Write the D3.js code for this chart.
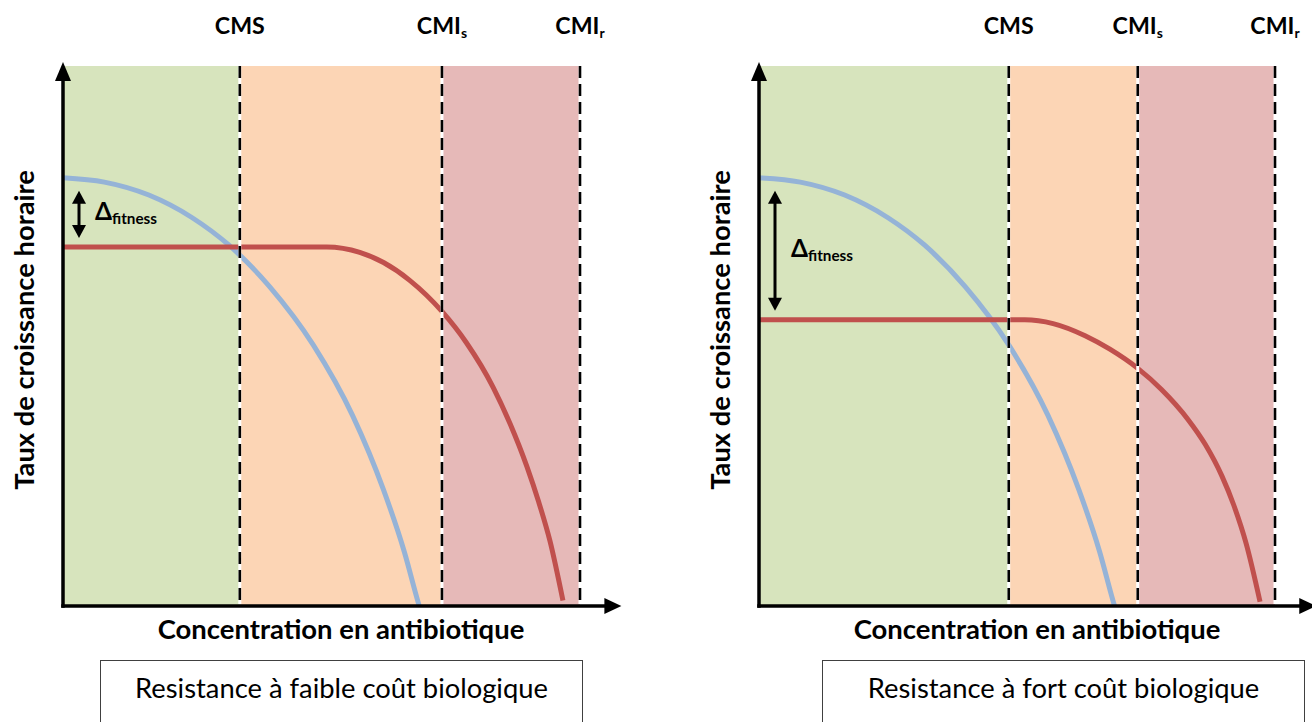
<!DOCTYPE html>
<html>
<head>
<meta charset="utf-8">
<script src="https://cdn.jsdelivr.net/npm/d3@7"></script>
<style>
  html, body { margin: 0; padding: 0; background: #fff; }
  svg { display: block; font-family: Lato, "Open Sans", sans-serif; }
</style>
</head>
<body>
<script>
// threshold labels (CMS, CMI_s, CMI_r)
const thresholdNames = ["CMS", "CMI", "CMI"];
const thresholdSubs = ["", "s", "r"];

// threshold concentrations, arbitrary units (CMI_r = 100)
const lowCostThresholds = [34.2, 73.3, 100];
const highCostThresholds = [48.4, 73.4, 100];

// susceptible strain: same curve in both panels [concentration, growth rate]
const sensitiveCurve = [
    [0, 79.3], [8, 78.5], [16.6, 76.1], [25, 71.9], [32, 66.9], [40, 59.1],
    [48.4, 48.35], [56, 35.3], [62, 21.5], [66, 10.1], [68.6, 1], [68.9, 0]
];

// resistant strain, low fitness cost
const lowCostResistant = [
    [0, 66.5], [51, 66.5], [57.4, 65.5], [62, 63.6], [67, 60.35], [73.3, 54.55],
    [78, 48.8], [83.2, 40.5], [86.5, 33.7], [89.7, 25.9], [92, 19.3], [94.2, 12], [96.7, 1]
];

// resistant strain, high fitness cost
const highCostResistant = [
    [0, 53], [51.5, 53], [57, 52.3], [63.2, 50.05], [68, 47.55], [73.4, 44],
    [78, 40.1], [83.1, 34.6], [86.5, 29.9], [89.7, 24.1], [92, 18.7], [94.4, 11.6], [97.1, 0.8]
];

const panelTitles = ["Resistance à faible coût biologique", "Resistance à fort coût biologique"];
const xTitle = "Concentration en antibiotique";
const yTitle = "Taux de croissance horaire";

const W = 1312, H = 722;
const bandColors = ["#d7e4bd", "#fcd5b5", "#e6b9b8"];
const blue = "#95b3d7", red = "#c0504d";

const svg = d3.select("body").append("svg")
    .attr("width", W)
    .attr("height", H);

const yScale = d3.scaleLinear().domain([0, 100]).range([606, 66]);

const panels = [
    { x0: 63, x1: 580, thresholds: lowCostThresholds, resistant: lowCostResistant, title: panelTitles[0], boxX: 100.5, boxW: 482 },
    { x0: 759, x1: 1275, thresholds: highCostThresholds, resistant: highCostResistant, title: panelTitles[1], boxX: 822.5, boxW: 482 }
];

// shrink/grow font-size so a text element spans the wanted width
const fitWidth = (sel, target) => {
    const fs = parseFloat(sel.attr("font-size"));
    const w = sel.node().getBBox().width;
    sel.attr("font-size", fs * target / w);
};

panels.forEach(p => {
    const xScale = d3.scaleLinear().domain([0, 100]).range([p.x0, p.x1]);
    const g = svg.append("g");

    // coloured zones
    const edges = [0].concat(p.thresholds);
    g.selectAll(".band")
        .data(p.thresholds)
        .enter().append("rect")
        .attr("class", "band")
        .attr("x", (d, i) => xScale(edges[i]))
        .attr("width", (d, i) => xScale(d) - xScale(edges[i]))
        .attr("y", yScale(100))
        .attr("height", yScale(0) - yScale(100))
        .style("fill", (d, i) => bandColors[i]);

    // curves
    const line = d3.line()
        .x(d => xScale(d[0]))
        .y(d => yScale(d[1]))
        .curve(d3.curveMonotoneX);

    g.append("path")
        .attr("d", line(sensitiveCurve))
        .style("fill", "none")
        .style("stroke", blue)
        .style("stroke-width", 5);

    g.append("path")
        .attr("d", line(p.resistant))
        .style("fill", "none")
        .style("stroke", red)
        .style("stroke-width", 5);

    // dashed threshold lines
    g.selectAll(".thrWhite")
        .data(p.thresholds)
        .enter().append("line")
        .attr("x1", d => xScale(d)).attr("x2", d => xScale(d))
        .attr("y1", yScale(100)).attr("y2", yScale(0) - 2)
        .style("stroke", "#fff")
        .style("stroke-width", 3);
    g.selectAll(".thr")
        .data(p.thresholds)
        .enter().append("line")
        .attr("x1", d => xScale(d)).attr("x2", d => xScale(d))
        .attr("y1", yScale(100)).attr("y2", yScale(0) - 2)
        .style("stroke", "#000")
        .style("stroke-width", 2.6)
        .style("stroke-dasharray", "12,6");

    // threshold labels
    g.selectAll(".thrLabel")
        .data(p.thresholds)
        .enter().append("text")
        .attr("class", "thrLabel")
        .attr("x", d => xScale(d))
        .attr("y", 34)
        .attr("text-anchor", "middle")
        .attr("font-size", 22)
        .attr("font-weight", "bold")
        .each(function(d, i) {
            const t = d3.select(this);
            t.append("tspan").text(thresholdNames[i]);
            if (thresholdSubs[i]) {
                t.append("tspan")
                    .attr("font-size", "0.6em")
                    .attr("dy", 4)
                    .text(thresholdSubs[i]);
            }
        });
    const cms = g.select(".thrLabel");
    fitWidth(cms, 50);
    g.selectAll(".thrLabel").attr("font-size", cms.attr("font-size"));

    // axes
    const ax = p.x0, ay = yScale(0);
    const xEnd = xScale(108);
    g.append("line")
        .attr("x1", ax - 1.75).attr("x2", xEnd - 10)
        .attr("y1", ay).attr("y2", ay)
        .style("stroke", "#000").style("stroke-width", 3.5);
    g.append("path")
        .attr("d", `M${xEnd},${ay} L${xEnd - 17},${ay - 8} L${xEnd - 17},${ay + 8} Z`)
        .style("fill", "#000");
    const yTop = yScale(100) - 4;
    g.append("line")
        .attr("x1", ax).attr("x2", ax)
        .attr("y1", ay + 1.75).attr("y2", yTop + 10)
        .style("stroke", "#000").style("stroke-width", 3.5);
    g.append("path")
        .attr("d", `M${ax},${yTop} L${ax - 8},${yTop + 19} L${ax + 8},${yTop + 19} Z`)
        .style("fill", "#000");

    // delta fitness arrow
    const yA = yScale(sensitiveCurve[0][1]) + 13;
    const yB = yScale(p.resistant[0][1]) - 9;
    const dx = ax + 16;
    g.append("line")
        .attr("x1", dx).attr("x2", dx)
        .attr("y1", yA + 10).attr("y2", yB - 10)
        .style("stroke", "#000").style("stroke-width", 3);
    g.append("path")
        .attr("d", `M${dx},${yA} L${dx - 7},${yA + 13} L${dx + 7},${yA + 13} Z`)
        .style("fill", "#000");
    g.append("path")
        .attr("d", `M${dx},${yB} L${dx - 7},${yB - 13} L${dx + 7},${yB - 13} Z`)
        .style("fill", "#000");
    const delta = g.append("text")
        .attr("x", ax + 32)
        .attr("y", (yA + yB) / 2 + 6)
        .attr("font-size", 20)
        .attr("font-weight", "bold");
    delta.append("tspan").attr("font-size", "1.15em").text("Δ");
    delta.append("tspan").attr("font-size", "0.72em").attr("dy", 4).text("fitness");
    fitWidth(delta, 62);

    // axis titles
    const xt = g.append("text")
        .attr("x", ax + 278)
        .attr("y", 639)
        .attr("text-anchor", "middle")
        .attr("font-size", 24)
        .attr("font-weight", "bold")
        .text(xTitle);
    fitWidth(xt, 367);

    const yt = g.append("text")
        .attr("transform", `translate(${ax - 29},330) rotate(-90)`)
        .attr("text-anchor", "middle")
        .attr("font-size", 24)
        .attr("font-weight", "bold")
        .text(yTitle);
    fitWidth(yt, 320);

    // caption box
    g.append("rect")
        .attr("x", p.boxX)
        .attr("y", 660.5)
        .attr("width", p.boxW)
        .attr("height", 80)
        .style("fill", "#fff")
        .style("stroke", "#404040")
        .style("stroke-width", 1);
    g.append("text")
        .attr("class", "caption")
        .attr("x", p.boxX + p.boxW / 2)
        .attr("y", 698)
        .attr("text-anchor", "middle")
        .attr("font-size", 24)
        .text(p.title);
});

// both captions share one size, fitted on the first one
const caps = svg.selectAll(".caption");
fitWidth(d3.select(caps.nodes()[0]), 413);
caps.attr("font-size", d3.select(caps.nodes()[0]).attr("font-size"));
</script>
</body>
</html>
